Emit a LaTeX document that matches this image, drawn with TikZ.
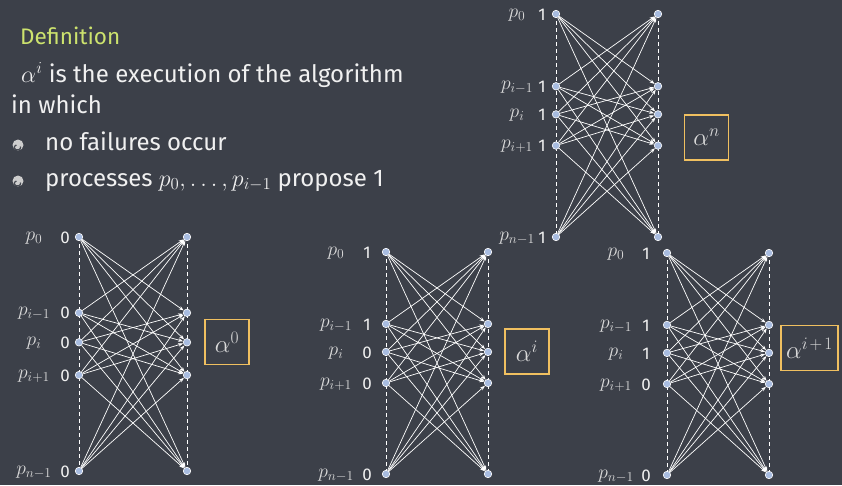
\RequirePackage{fix-cm}
\documentclass[tikz,border=0pt]{standalone}
\usepackage{fontspec}
\setmainfont{Fira Sans}
\usetikzlibrary{arrows.meta}
\definecolor{slate}{RGB}{60,64,73}
\definecolor{defgreen}{RGB}{205,227,110}
\definecolor{dotblue}{RGB}{168,188,224}
\definecolor{boxgold}{RGB}{240,192,96}
\definecolor{chalk}{RGB}{240,240,240}
\definecolor{labgray}{RGB}{218,218,218}
\definecolor{bulletgray}{RGB}{205,205,205}
\definecolor{bulletdark}{RGB}{70,74,82}
\pgfdeclarelayer{bg}\pgfdeclarelayer{wires}\pgfsetlayers{bg,wires,main}
\tikzset{
  dot/.style={circle, fill=dotblue, draw=white, line width=0.6pt, minimum size=7.5pt, inner sep=0pt},
  wire/.style={draw=white, line width=0.7pt, -{Stealth[length=5pt,width=3.6pt]}},
  rail/.style={draw=white, line width=0.8pt, dash pattern=on 4pt off 3pt},
  plab/.style={text=labgray, font=\fontsize{19.5}{21}\selectfont, inner sep=0pt},
  pval/.style={text=chalk, font=\fontsize{17}{19}\selectfont, inner sep=0pt},
  abox/.style={draw=boxgold, line width=1.5pt, text=labgray, minimum width=44pt, minimum height=45pt, inner sep=3pt, font=\fontsize{25}{27}\selectfont},
  deftext/.style={text=chalk, font=\fontsize{24}{26}\selectfont, anchor=base west, inner sep=0pt},
}
% #1 prefix, #2 left x, #3 right x, #4 top y, #5 bottom y, #6 label offset, #7 value offset, #8 values
\newcommand\execdiag[8]{%
  \foreach \k/\f/\lab in {0/0/p_0,1/0.324/p_{i-1},2/0.45/p_i,3/0.59/p_{i+1},4/1/p_{n-1}}{%
    \pgfmathsetmacro\yy{#4+\f*(#5-#4)}%
    \pgfmathtruncatemacro\vv{{#8}[\k]}%
    \node[dot] (#1L\k) at (#2,\yy) {};
    \node[dot] (#1R\k) at (#3,\yy) {};
    \node[plab] (#1P\k) at (#2-#6,\yy+1) {$\lab$};
    \node[pval] (#1V\k) at (#2-#7,\yy+0.5) {\vv};
  }%
  \begin{pgfonlayer}{wires}
    \draw[rail] (#1L0.center) -- (#1L4.center);
    \draw[rail] (#1R0.center) -- (#1R4.center);
    \foreach \a in {0,...,4}{\foreach \b in {0,...,4}{%
      \ifnum\a=\b\relax\else\draw[wire] (#1L\a) -- (#1R\b);\fi}}
  \end{pgfonlayer}
}
\begin{document}
\begin{tikzpicture}[x=1pt,y=-1pt]
\useasboundingbox (0,0) rectangle (842,485);
\begin{pgfonlayer}{bg}
  \fill[slate] (0,0) rectangle (842,485);
\end{pgfonlayer}

% text block
\node[deftext, text=defgreen, font=\fontsize{22.5}{26}\selectfont] (def) at (20,44) {Definition};
\node[deftext] (line1) at (21,82) {$\alpha^i$ is the execution of the algorithm};
\node[deftext] (line2) at (11,113) {in which};
\node[deftext] (item1) at (45,150) {no failures occur};
\node[deftext] (item2) at (45,186) {processes $p_0,\ldots,p_{i-1}$ propose 1};
\foreach \by in {145,181}{
  \fill[bulletgray] (18,\by) circle (5.5);
  \draw[bulletdark, line width=1.2pt] (20.5,\by+1.5) arc[start angle=-20, end angle=250, x radius=3.2, y radius=2.6];
}

% diagrams
\execdiag{z}{79}{187}{237}{471}{45}{14}{0,0,0,0,0}
\node[abox] (zbox) at (227,342) {$\alpha^0$};

\execdiag{n}{556}{658}{14}{237}{39}{14}{1,1,1,1,1}
\node[abox] (nbox) at (706.5,137.5) {$\alpha^n$};

\execdiag{m}{386}{488}{252}{474}{50}{19}{1,1,0,0,0}
\node[abox] (mbox) at (527,351.5) {$\alpha^i$};

\execdiag{q}{667}{769}{253}{475}{51}{21}{1,1,1,0,0}
\node[abox, minimum width=57pt] (qbox) at (809.5,348) {$\alpha^{i\mkern2mu+\mkern2mu1}$};
\end{tikzpicture}
\end{document}
